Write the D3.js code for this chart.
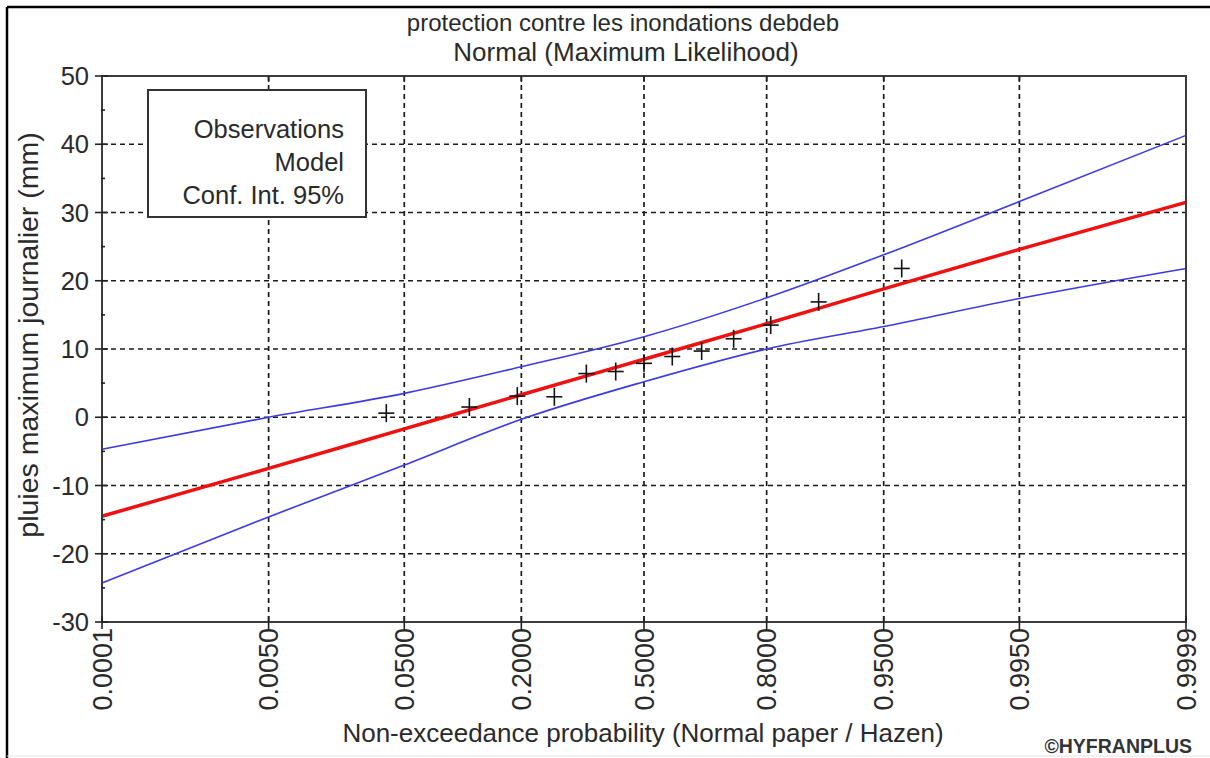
<!DOCTYPE html>
<html>
<head>
<meta charset="utf-8">
<script src="https://cdn.jsdelivr.net/npm/d3@7"></script>
<style>
  html, body { margin: 0; padding: 0; background: #fff; }
  svg { display: block; font-family: "Liberation Sans", Arial, sans-serif; }
</style>
</head>
<body>
<svg id="chart" width="1210" height="758"></svg>
<script>
// Probability axis ticks (normal probability paper)
const probTicks = [0.0001, 0.005, 0.05, 0.2, 0.5, 0.8, 0.95, 0.995, 0.9999];
const probLabels = ["0.0001", "0.0050", "0.0500", "0.2000", "0.5000", "0.8000", "0.9500", "0.9950", "0.9999"];

// Y axis ticks (mm)
const yTicks = [-30, -20, -10, 0, 10, 20, 30, 40, 50];
const yMinorTicks = [-25, -15, -5, 5, 15, 25, 35, 45];

// Observations, Hazen plotting positions (n = 13)
const obsProb = [0.0385, 0.1154, 0.1923, 0.2692, 0.3462, 0.4231, 0.5, 0.5769, 0.6538, 0.7308, 0.8077, 0.8846, 0.9615];
const obsValue = [0.6, 1.5, 3.1, 3.0, 6.4, 6.7, 7.9, 8.9, 9.7, 11.5, 13.5, 16.9, 21.8];

// Fitted normal model and 95% confidence bounds, at the axis probabilities
const modelValue = [-14.5, -7.5, -1.7, 3.3, 8.5, 13.7, 18.8, 24.6, 31.5];
const upperValue = [-4.7, 0.0, 3.5, 7.4, 11.8, 17.5, 23.8, 31.6, 41.3];
const lowerValue = [-24.3, -14.6, -7.0, -0.3, 5.2, 10.0, 13.3, 17.4, 21.8];

const legendItems = ["Observations", "Model", "Conf. Int. 95%"];

// Inverse standard normal CDF (Acklam's rational approximation)
function probit(p) {
  const a = [-3.969683028665376e+01, 2.209460984245205e+02, -2.759285104469687e+02, 1.383577518672690e+02, -3.066479806614716e+01, 2.506628277459239e+00];
  const b = [-5.447609879822406e+01, 1.615858368580409e+02, -1.556989798598866e+02, 6.680131188771972e+01, -1.328068155288572e+01];
  const c = [-7.784894002430293e-03, -3.223964580411365e-01, -2.400758277161838e+00, -2.549732539343734e+00, 4.374664141464968e+00, 2.938163982698783e+00];
  const d = [7.784695709041462e-03, 3.224671290700398e-01, 2.445134137142996e+00, 3.754408661907416e+00];
  const pl = 0.02425, ph = 1 - pl;
  let q, r;
  if (p < pl) {
    q = Math.sqrt(-2 * Math.log(p));
    return (((((c[0]*q+c[1])*q+c[2])*q+c[3])*q+c[4])*q+c[5]) / ((((d[0]*q+d[1])*q+d[2])*q+d[3])*q+1);
  } else if (p <= ph) {
    q = p - 0.5; r = q * q;
    return (((((a[0]*r+a[1])*r+a[2])*r+a[3])*r+a[4])*r+a[5])*q / (((((b[0]*r+b[1])*r+b[2])*r+b[3])*r+b[4])*r+1);
  } else {
    q = Math.sqrt(-2 * Math.log(1 - p));
    return -(((((c[0]*q+c[1])*q+c[2])*q+c[3])*q+c[4])*q+c[5]) / ((((d[0]*q+d[1])*q+d[2])*q+d[3])*q+1);
  }
}

const svg = d3.select("#chart");
const W = 1210, H = 758;
const plot = { left: 102, right: 1186, top: 76, bottom: 622 };
const textColor = "#2a2a2a";
const fs = 25.5;

// Scales: x is linear in the normal quantile of the probability
const zScale = d3.scaleLinear()
  .domain([probit(probTicks[0]), probit(probTicks[probTicks.length - 1])])
  .range([plot.left, plot.right]);
const x = p => zScale(probit(p));
const y = d3.scaleLinear().domain([-30, 50]).range([plot.bottom, plot.top]);

// Outer frame
svg.append("rect").attr("x", 0).attr("y", 0).attr("width", W).attr("height", H).attr("fill", "#fff");
svg.append("line").attr("x1", 7).attr("x2", W).attr("y1", 7).attr("y2", 7).attr("stroke", "#000").attr("stroke-width", 2.5);
svg.append("line").attr("x1", 7).attr("x2", 7).attr("y1", 7).attr("y2", H).attr("stroke", "#000").attr("stroke-width", 2.5);
svg.append("line").attr("x1", 7).attr("x2", W).attr("y1", 756).attr("y2", 756).attr("stroke", "#e4e4e4").attr("stroke-width", 1);

// Titles
svg.append("text").attr("x", 623).attr("y", 31).attr("text-anchor", "middle")
  .attr("font-size", 24).attr("fill", textColor).text("protection contre les inondations debdeb");
svg.append("text").attr("x", 626).attr("y", 61).attr("text-anchor", "middle")
  .attr("font-size", 26).attr("fill", textColor).text("Normal (Maximum Likelihood)");

// Dashed grid
const grid = svg.append("g").attr("stroke", "#1a1a1a").attr("stroke-width", 1.7).attr("stroke-dasharray", "5,4");
grid.selectAll("line.gx").data(probTicks.slice(1, -1)).join("line")
  .attr("x1", d => x(d)).attr("x2", d => x(d)).attr("y1", plot.top).attr("y2", plot.bottom);
grid.selectAll("line.gy").data(yTicks.slice(1, -1)).join("line")
  .attr("x1", plot.left).attr("x2", plot.right).attr("y1", d => y(d)).attr("y2", d => y(d));

// Curves
const line = (vals) => d3.line()
  .x((d, i) => x(probTicks[i]))
  .y(d => y(d))
  .curve(d3.curveMonotoneX)(vals);

const curves = svg.append("g");
curves.append("path").attr("d", line(upperValue)).attr("fill", "none").attr("stroke", "#3a3ae6").attr("stroke-width", 1.6);
curves.append("path").attr("d", line(lowerValue)).attr("fill", "none").attr("stroke", "#3a3ae6").attr("stroke-width", 1.6);
curves.append("path").attr("d", line(modelValue)).attr("fill", "none").attr("stroke", "#f01010").attr("stroke-width", 3.5);

// Observations as plus markers
const obs = svg.append("g").attr("stroke", "#111").attr("stroke-width", 1.6);
obsProb.forEach((p, i) => {
  const cx = x(p), cy = y(obsValue[i]);
  obs.append("line").attr("x1", cx - 8).attr("x2", cx + 8).attr("y1", cy).attr("y2", cy);
  obs.append("line").attr("x1", cx).attr("x2", cx).attr("y1", cy - 9).attr("y2", cy + 9);
});

// Plot frame
svg.append("rect").attr("x", plot.left).attr("y", plot.top)
  .attr("width", plot.right - plot.left).attr("height", plot.bottom - plot.top)
  .attr("fill", "none").attr("stroke", "#3c3c3c").attr("stroke-width", 2);

// Y axis ticks and labels
const yAxis = svg.append("g");
yAxis.selectAll("line.maj").data(yTicks).join("line")
  .attr("x1", plot.left - 7).attr("x2", plot.left + 6).attr("y1", d => y(d)).attr("y2", d => y(d))
  .attr("stroke", "#222").attr("stroke-width", 1.6);
yAxis.selectAll("line.min").data(yMinorTicks).join("line")
  .attr("x1", plot.left - 1).attr("x2", plot.left + 3).attr("y1", d => y(d)).attr("y2", d => y(d))
  .attr("stroke", "#222").attr("stroke-width", 1.6);
yAxis.selectAll("text").data(yTicks).join("text")
  .attr("x", 89).attr("y", d => y(d)).attr("dy", "0.36em").attr("text-anchor", "end")
  .attr("font-size", fs).attr("fill", textColor).text(d => d);

// X axis ticks and rotated labels
const xAxis = svg.append("g");
xAxis.selectAll("line.b").data(probTicks).join("line")
  .attr("x1", d => x(d)).attr("x2", d => x(d)).attr("y1", plot.bottom - 6).attr("y2", plot.bottom + 7)
  .attr("stroke", "#222").attr("stroke-width", 1.6);
xAxis.selectAll("line.t").data(probTicks.slice(1, -1)).join("line")
  .attr("x1", d => x(d)).attr("x2", d => x(d)).attr("y1", plot.top).attr("y2", plot.top + 6)
  .attr("stroke", "#222").attr("stroke-width", 1.6);
xAxis.selectAll("text").data(probTicks).join("text")
  .attr("transform", d => `translate(${x(d)},${plot.bottom + 6}) rotate(-90)`)
  .attr("dy", "0.36em").attr("text-anchor", "end")
  .attr("font-size", 27).attr("fill", textColor).text((d, i) => probLabels[i]);

// Axis titles
svg.append("text").attr("transform", `translate(38,335) rotate(-90)`)
  .attr("text-anchor", "middle").attr("font-size", 28.5).attr("fill", textColor)
  .text("pluies maximum journalier (mm)");
svg.append("text").attr("x", 643).attr("y", 742).attr("text-anchor", "middle")
  .attr("font-size", 26).attr("fill", textColor)
  .text("Non-exceedance probability (Normal paper / Hazen)");
svg.append("text").attr("x", 1192).attr("y", 753).attr("text-anchor", "end")
  .attr("font-size", 19.5).attr("font-weight", "bold").attr("fill", "#333")
  .text("©HYFRANPLUS");

// Legend box
const legend = svg.append("g");
legend.append("rect").attr("x", 148).attr("y", 90).attr("width", 218).attr("height", 127)
  .attr("fill", "#fff").attr("stroke", "#333").attr("stroke-width", 2);
legend.selectAll("text").data(legendItems).join("text")
  .attr("x", 344).attr("y", (d, i) => 138 + i * 33).attr("text-anchor", "end")
  .attr("font-size", fs).attr("fill", textColor).text(d => d);
</script>
</body>
</html>
